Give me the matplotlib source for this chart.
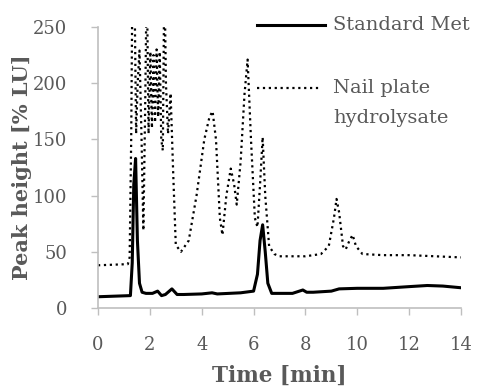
import matplotlib.pyplot as plt

# Standard Met trace
t_std = [0, 1.25, 1.32, 1.38, 1.45, 1.52, 1.6, 1.7, 1.85, 2.1, 2.3, 2.45, 2.6, 2.85,
         3.05, 3.3, 4.0, 4.4, 4.6, 5.5, 6.0, 6.15, 6.25, 6.35, 6.45, 6.55, 6.7, 7.5,
         7.9, 8.05, 8.3, 9.0, 9.3, 10.0, 11.0, 12.0, 12.7, 13.3, 14.0]
v_std = [10, 11, 40, 110, 133, 60, 22, 14, 13, 13, 15, 11, 12, 17,
         12, 12, 12.5, 13.5, 12.5, 13.5, 15, 30, 60, 74, 50, 22, 13, 13,
         16, 14, 14, 15, 17, 17.5, 17.5, 19, 20, 19.5, 18]

# Nail plate hydrolysate trace
t_nail = [0, 1.15, 1.22, 1.28, 1.33, 1.40, 1.47, 1.53, 1.60, 1.68, 1.75, 1.82, 1.88,
          1.95, 2.02, 2.08, 2.14, 2.2, 2.26, 2.32, 2.38, 2.44, 2.5, 2.56, 2.62, 2.7,
          2.8, 2.9, 3.0, 3.2, 3.5, 3.8, 4.1, 4.3, 4.42, 4.55, 4.7, 4.8, 4.95, 5.12,
          5.25, 5.35, 5.5, 5.65, 5.77, 5.9, 6.05, 6.15, 6.25, 6.35, 6.45, 6.6, 6.8,
          7.0, 8.0, 8.6, 8.9, 9.1, 9.2, 9.3, 9.45, 9.55, 9.7, 9.82, 9.95, 10.2, 11,
          12, 13, 14]
v_nail = [38, 39, 45, 150, 300, 300, 155, 200, 229, 150, 69, 180, 300,
          155, 228, 160, 225, 165, 230, 170, 228, 150, 140, 300, 200, 155,
          191, 120, 56, 50, 60, 100, 150, 170, 175, 150, 80, 65, 100, 124,
          110, 92, 130, 190, 221, 150, 80, 72, 110, 152, 100, 55, 48,
          46, 46, 48, 55, 80, 97, 85, 55, 52, 60, 65, 55, 48, 47,
          47, 46, 45]

x_ticks = [0, 2, 4, 6, 8, 10, 12, 14]
y_ticks = [0, 50, 100, 150, 200, 250]
label_std = 'Standard Met'
label_nail = ['Nail plate', 'hydrolysate']

gray = '#595959'
plt.rcParams['font.family'] = 'DejaVu Serif'

fig = plt.figure(figsize=(4.79, 3.9), dpi=100)
ax = fig.add_axes([0.2046, 0.2103, 0.7578, 0.7205])

ax.plot(t_std, v_std, color='black', lw=2.2)
ax.plot(t_nail, v_nail, color='black', lw=1.6, ls=':')

ax.set_xlim(0, 14)
ax.set_ylim(0, 250)
ax.set_xticks(x_ticks)
ax.set_yticks(y_ticks)
ax.tick_params(colors='#BFBFBF', labelcolor=gray, labelsize=13, length=5, width=1)
ax.tick_params(axis='x', pad=15)
ax.tick_params(axis='y', pad=17)

for s in ['top', 'right']:
    ax.spines[s].set_visible(False)
for s in ['left', 'bottom']:
    ax.spines[s].set_color('#BFBFBF')
    ax.spines[s].set_linewidth(1.2)

ax.set_xlabel('Time [min]', fontsize=15.5, fontweight='bold', color=gray, labelpad=8)
ax.set_ylabel('Peak height [% LU]', fontsize=15, fontweight='bold', color=gray, labelpad=1)

# legend, drawn by hand so the dotted key sits on the first text line
ax.plot([0.438, 0.625], [1.007, 1.007], transform=ax.transAxes, clip_on=False,
        color='black', lw=2.2)
ax.plot([0.438, 0.61], [0.783, 0.783], transform=ax.transAxes, clip_on=False,
        color='black', lw=1.6, ls=':')
ax.text(0.647, 1.007, label_std, transform=ax.transAxes, fontsize=14, color=gray,
        va='center', ha='left')
ax.text(0.647, 0.783, label_nail[0], transform=ax.transAxes, fontsize=14, color=gray,
        va='center', ha='left')
ax.text(0.647, 0.676, label_nail[1], transform=ax.transAxes, fontsize=14, color=gray,
        va='center', ha='left')

fig.savefig('out.png')
